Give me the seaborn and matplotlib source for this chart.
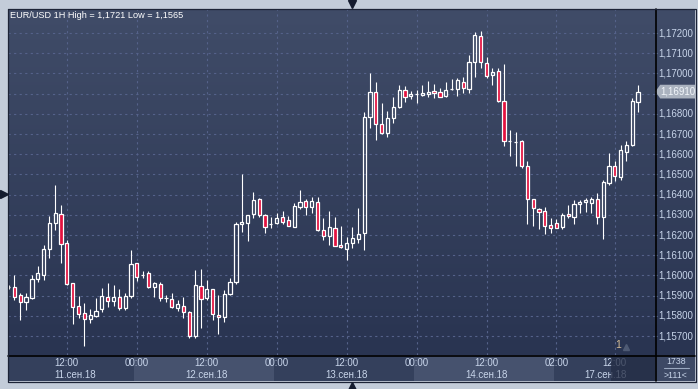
import numpy as np
import pandas as pd
import matplotlib
matplotlib.use("Agg")
import matplotlib.pyplot as plt
import matplotlib.transforms as mtransforms
from matplotlib.colors import LinearSegmentedColormap
from matplotlib.patches import Polygon
import seaborn as sns

# EUR/USD hourly candles (11.09 02:00 -> 17.09 14:00)
opens = [1.15943, 1.15941, 1.15903, 1.15867, 1.15890, 1.15982, 1.16002, 1.16129, 1.16258, 1.16303,
         1.16159, 1.15961, 1.15849, 1.15813, 1.15783, 1.15799, 1.15832, 1.15895, 1.15873, 1.15895,
         1.15840, 1.15898, 1.16060, 1.16002, 1.16010, 1.15941, 1.15956, 1.15887, 1.15882, 1.15840,
         1.15850, 1.15820, 1.15702, 1.15949, 1.15887, 1.15931, 1.15804, 1.15793, 1.15907, 1.15966,
         1.16255, 1.16261, 1.16303, 1.16377, 1.16299, 1.16253, 1.16258, 1.16288, 1.16273, 1.16241,
         1.16340, 1.16367, 1.16340, 1.16362, 1.16225, 1.16197, 1.16233, 1.16149, 1.16132, 1.16162,
         1.16182, 1.16209, 1.16783, 1.16906, 1.16748, 1.16706, 1.16778, 1.16835, 1.16918, 1.16888,
         1.16898, 1.16895, 1.16900, 1.16913, 1.16906, 1.16890, 1.16923, 1.16921, 1.16959, 1.16921,
         1.17055, 1.17185, 1.17050, 1.16991, 1.17012, 1.16863, 1.16667, 1.16662, 1.16665, 1.16543,
         1.16377, 1.16329, 1.16319, 1.16248, 1.16259, 1.16238, 1.16304, 1.16291, 1.16352, 1.16362,
         1.16360, 1.16378, 1.16291, 1.16459, 1.16542, 1.16489, 1.16612, 1.16646, 1.16857]
highs = [1.15953, 1.16002, 1.15913, 1.15912, 1.16002, 1.16047, 1.16151, 1.16294, 1.16448, 1.16349,
         1.16175, 1.15962, 1.15898, 1.15865, 1.15834, 1.15887, 1.15936, 1.15964, 1.15953, 1.15931,
         1.15912, 1.16126, 1.16062, 1.16022, 1.16022, 1.15967, 1.15969, 1.15903, 1.15912, 1.15878,
         1.15895, 1.15824, 1.16027, 1.16030, 1.15977, 1.15933, 1.15903, 1.15928, 1.15989, 1.16264,
         1.16502, 1.16300, 1.16414, 1.16383, 1.16304, 1.16291, 1.16310, 1.16319, 1.16296, 1.16357,
         1.16423, 1.16377, 1.16390, 1.16390, 1.16286, 1.16319, 1.16291, 1.16245, 1.16192, 1.16241,
         1.16334, 1.16810, 1.17003, 1.16957, 1.16852, 1.16814, 1.16885, 1.16943, 1.16938, 1.16914,
         1.16918, 1.16943, 1.16962, 1.16946, 1.16926, 1.16957, 1.16971, 1.16977, 1.16984, 1.17091,
         1.17203, 1.17210, 1.17080, 1.17028, 1.17025, 1.17047, 1.16720, 1.16708, 1.16670, 1.16566,
         1.16378, 1.16335, 1.16340, 1.16283, 1.16279, 1.16310, 1.16349, 1.16373, 1.16373, 1.16382,
         1.16390, 1.16409, 1.16472, 1.16605, 1.16566, 1.16646, 1.16665, 1.16877, 1.16943]
lows = [1.15933, 1.15878, 1.15779, 1.15829, 1.15883, 1.15969, 1.15977, 1.16088, 1.16225, 1.16060,
        1.15953, 1.15760, 1.15788, 1.15650, 1.15763, 1.15793, 1.15820, 1.15845, 1.15849, 1.15829,
        1.15829, 1.15887, 1.15972, 1.15989, 1.15938, 1.15895, 1.15875, 1.15870, 1.15837, 1.15825,
        1.15788, 1.15689, 1.15692, 1.15741, 1.15878, 1.15779, 1.15709, 1.15771, 1.15905, 1.15956,
        1.16215, 1.16172, 1.16286, 1.16291, 1.16211, 1.16233, 1.16255, 1.16255, 1.16244, 1.16239,
        1.16327, 1.16301, 1.16310, 1.16220, 1.16175, 1.16151, 1.16145, 1.16137, 1.16076, 1.16137,
        1.16162, 1.16126, 1.16731, 1.16670, 1.16700, 1.16687, 1.16753, 1.16827, 1.16860, 1.16872,
        1.16852, 1.16888, 1.16885, 1.16877, 1.16882, 1.16885, 1.16918, 1.16890, 1.16902, 1.16902,
        1.16984, 1.17025, 1.16976, 1.16943, 1.16860, 1.16641, 1.16593, 1.16543, 1.16533, 1.16255,
        1.16246, 1.16230, 1.16204, 1.16211, 1.16234, 1.16228, 1.16283, 1.16255, 1.16308, 1.16312,
        1.16310, 1.16255, 1.16180, 1.16448, 1.16467, 1.16472, 1.16568, 1.16641, 1.16810]
closes = [1.15943, 1.15895, 1.15870, 1.15892, 1.15981, 1.16010, 1.16129, 1.16258, 1.16308, 1.16154,
          1.15956, 1.15845, 1.15808, 1.15783, 1.15804, 1.15825, 1.15898, 1.15873, 1.15895, 1.15840,
          1.15898, 1.16055, 1.15994, 1.16002, 1.15941, 1.15961, 1.15887, 1.15887, 1.15845, 1.15857,
          1.15820, 1.15700, 1.15953, 1.15882, 1.15931, 1.15808, 1.15796, 1.15907, 1.15966, 1.16253,
          1.16263, 1.16298, 1.16373, 1.16299, 1.16241, 1.16253, 1.16283, 1.16266, 1.16246, 1.16344,
          1.16362, 1.16340, 1.16368, 1.16225, 1.16197, 1.16240, 1.16147, 1.16139, 1.16160, 1.16184,
          1.16204, 1.16783, 1.16906, 1.16748, 1.16706, 1.16778, 1.16832, 1.16918, 1.16885, 1.16898,
          1.16898, 1.16902, 1.16906, 1.16902, 1.16885, 1.16916, 1.16923, 1.16966, 1.16926, 1.17055,
          1.17190, 1.17055, 1.16987, 1.17007, 1.16863, 1.16667, 1.16667, 1.16662, 1.16543, 1.16377,
          1.16332, 1.16315, 1.16246, 1.16236, 1.16236, 1.16299, 1.16294, 1.16354, 1.16363, 1.16372,
          1.16378, 1.16288, 1.16461, 1.16542, 1.16494, 1.16621, 1.16646, 1.16863, 1.16910]

time_ticks = [10, 22, 34, 46, 58, 70, 82, 94, 104]
time_labels = ["12:00", "00:00", "12:00", "00:00", "12:00", "00:00", "12:00", "02:00", "12:00"]
date_pos = [11.5, 34, 58, 82, 102.4]
date_labels = ["11.сен.18", "12.сен.18", "13.сен.18", "14.сен.18", "17.сен.18"]
day_shade = [(21.5, 45.5), (69.5, 93.5)]
price_ticks = [1.157, 1.158, 1.159, 1.160, 1.161, 1.162, 1.163, 1.164,
               1.165, 1.166, 1.167, 1.168, 1.169, 1.170, 1.171, 1.172]
last_price = 1.16910
title = "EUR/USD 1H High = 1,1721 Low = 1,1565"

sns.set_style("dark")
plt.rcParams["font.family"] = ["Liberation Sans", "DejaVu Sans"]

W, H = 698, 389
XLIM = (-0.1, 110.9)
YLIM = (1.15606, 1.17319)
LABEL_C = "#c8d5ea"

fig = plt.figure(figsize=(W / 100, H / 100), dpi=100)
fig.patch.set_facecolor("#c3ccd9")


def box(x0, y0, x1, y1):
    # pixel box (top-left origin) -> figure rect
    return [x0 / W, 1 - y1 / H, (x1 - x0) / W, (y1 - y0) / H]


# background gradient behind chart and price scale
bg = fig.add_axes(box(8, 9, 695, 355))
cmap = LinearSegmentedColormap.from_list("bg", ["#404c68", "#293451"])
bg.imshow(np.linspace(0, 1, 256)[:, None], aspect="auto", cmap=cmap, extent=[0, 1, 0, 1])
bg.axis("off")

# main candle axes
ax = fig.add_axes(box(8, 9, 655, 355))
ax.set_facecolor("none")
df = pd.DataFrame({"open": opens, "high": highs, "low": lows, "close": closes})
idx = np.arange(len(df))
up = (df["close"] >= df["open"]).values
top = df[["open", "close"]].max(axis=1).values
bot = df[["open", "close"]].min(axis=1).values

ax.vlines(idx, top, df["high"], color="white", lw=0.8, zorder=3)
ax.vlines(idx, df["low"], bot, color="white", lw=0.8, zorder=3)
ax.bar(idx[up], (top - bot)[up], bottom=bot[up], width=0.55, facecolor="none",
       edgecolor="white", lw=0.9, zorder=4)
ax.bar(idx[~up], (top - bot)[~up], bottom=bot[~up], width=0.55, facecolor="#e3123f",
       edgecolor="white", lw=0.9, zorder=4)

ax.set_xlim(*XLIM)
ax.set_ylim(*YLIM)
ax.set_xticks(time_ticks)
ax.set_yticks(price_ticks)
ax.grid(True, color="#55628a", ls=(0, (2, 3)), lw=0.8)
ax.tick_params(length=0, labelbottom=False, labelleft=False)
for s in ax.spines.values():
    s.set_visible(False)
ax.text(2 / 647, 1 - 6 / 346, title, transform=ax.transAxes, color="white",
        fontsize=6.6, ha="left", va="center")
ax.text(104.5, 0.03, "1", transform=ax.get_xaxis_transform(), color="#d6bd95",
        fontsize=7.5, ha="center", va="center")
ax.plot([106.0], [0.022], marker="^", ms=5, color="#4e5a74", transform=ax.get_xaxis_transform(),
        clip_on=False)

# price scale on the right
rax = fig.add_axes(box(655, 9, 695, 355))
rax.set_facecolor("none")
rax.set_xlim(0, 1)
rax.set_ylim(*YLIM)
rax.set_xticks([])
rax.set_yticks([])
for s in rax.spines.values():
    s.set_visible(False)
hh = 0.00034
for p in price_ticks:
    if abs(p - last_price) < 2 * hh:
        continue  # hidden under the last-price tag
    rax.text(0.08, p, f"{p:.5f}".replace(".", ","), color=LABEL_C, fontsize=7,
             ha="left", va="center")
rax.hlines(price_ticks, 0, 0.05, color="#6f86ad", lw=0.8)
bt = mtransforms.blended_transform_factory(rax.transAxes, rax.transData)
rax.add_patch(Polygon([(0.01, last_price), (0.13, last_price + hh), (1.0, last_price + hh),
                       (1.0, last_price - hh), (0.13, last_price - hh)],
                      closed=True, facecolor="#aab2bf", edgecolor="none", transform=bt, zorder=5))
rax.text(0.14, last_price, f"{last_price:.5f}".replace(".", ","), color="#f2f6fb", fontsize=7,
         ha="left", va="center", zorder=6)

# time band under the chart
bax = fig.add_axes(box(8, 355, 655, 381))
bax.set_xlim(*XLIM)
bax.set_ylim(0, 1)
bax.axis("off")
bax.add_patch(plt.Rectangle((XLIM[0], 0), XLIM[1] - XLIM[0], 1, color="#34405c", zorder=0))
for a, b in day_shade:
    bax.axvspan(a, b, color="#46526e", zorder=1, lw=0)
for t, lab in zip(time_ticks, time_labels):
    bax.text(t, 0.68, lab, color=LABEL_C, fontsize=7, ha="center", va="center", zorder=2)
for d, lab in zip(date_pos, date_labels):
    bax.text(d, 0.25, lab, color=LABEL_C, fontsize=7, ha="center", va="center", zorder=2)
bax.axvspan(103.4, XLIM[1], color="#232c44", alpha=0.75, zorder=3, lw=0)

# bottom-right corner
cax = fig.add_axes(box(655, 355, 695, 381))
cax.set_xlim(0, 1)
cax.set_ylim(0, 1)
cax.axis("off")
cax.add_patch(plt.Rectangle((0, 0), 1, 1, color="#3d4965"))
cax.text(0.52, 0.75, "1738", color=LABEL_C, fontsize=6.3, ha="center", va="center")
cax.plot([0.22, 0.84], [0.5, 0.5], color="#9aa8c0", lw=0.8)
cax.text(0.52, 0.23, ">111<", color=LABEL_C, fontsize=6.3, ha="center", va="center")

# frame lines and the little arrow handles (pixel overlay)
ov = fig.add_axes([0, 0, 1, 1])
ov.set_xlim(0, W)
ov.set_ylim(H, 0)
ov.axis("off")
ov.set_facecolor("none")
ov.plot([655.5, 655.5], [9, 381], color="black", lw=1.2)
ov.plot([8, 695], [355.5, 355.5], color="black", lw=1.2)
ov.plot([7.5, 7.5, 695.5, 695.5, 7.5], [8.5, 381.5, 381.5, 8.5, 8.5], color="#1c2336", lw=0.9)
ov.plot([352], [3.5], marker="v", ms=6, color="#141b2e")
ov.plot([352], [385.5], marker="^", ms=6, color="#141b2e")
ov.plot([3.5], [194], marker=">", ms=6, color="#141b2e")

fig.savefig("out.png", dpi=100, facecolor=fig.get_facecolor())
